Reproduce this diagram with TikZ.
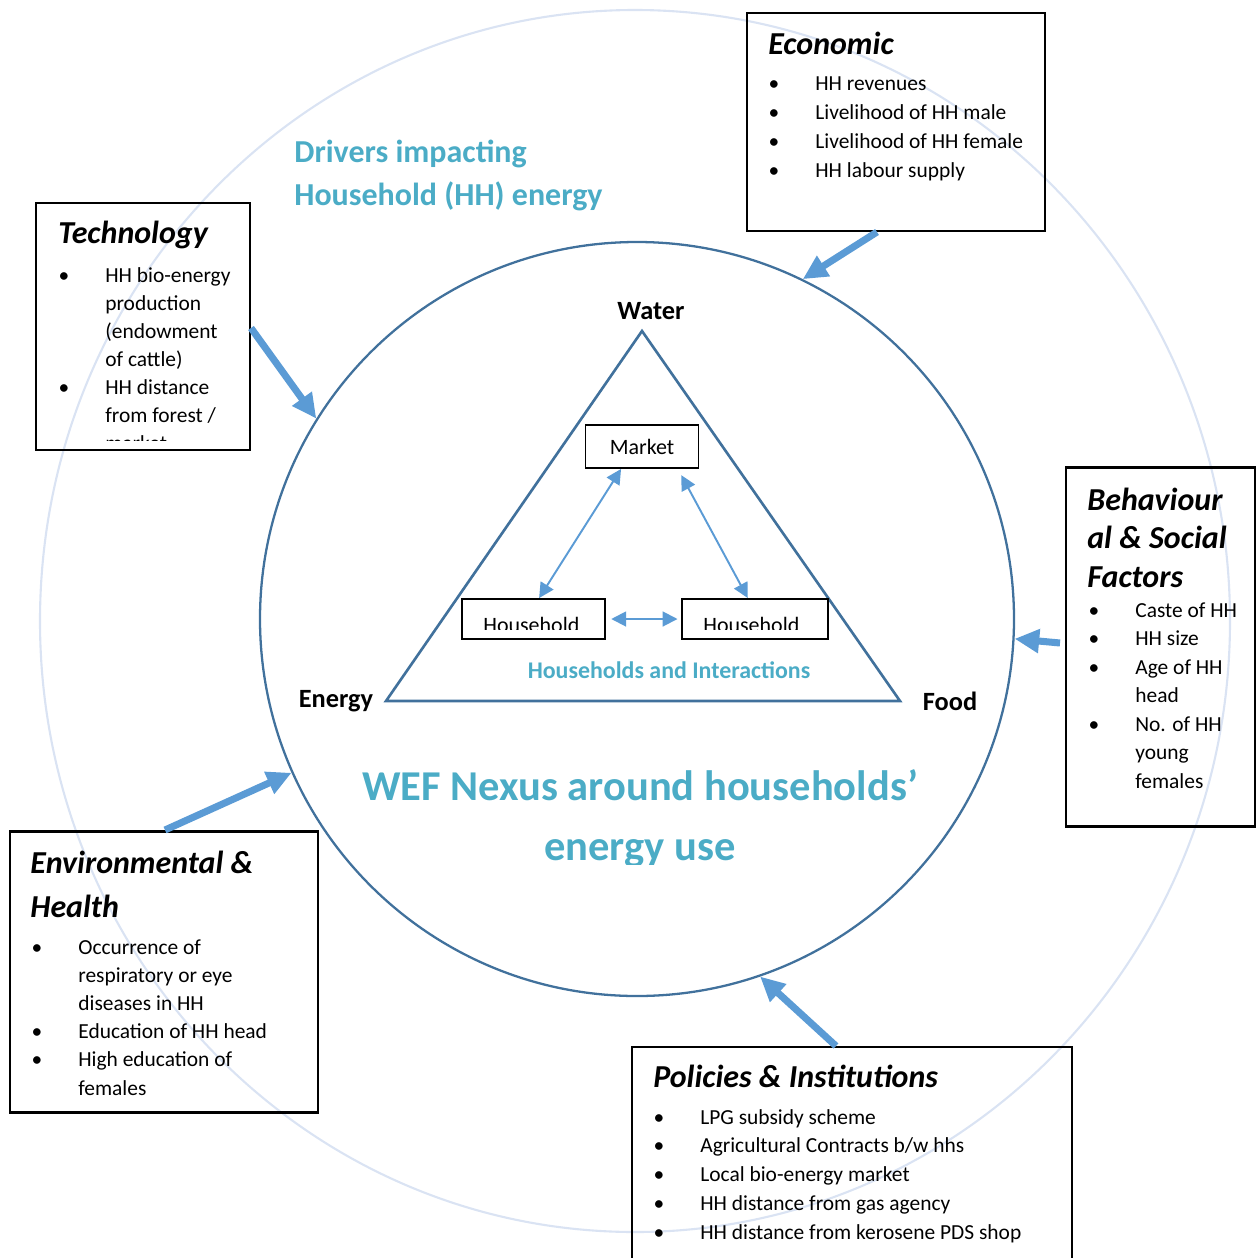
\documentclass[tikz,border=0pt]{standalone}
\usepackage{fontspec}
\setmainfont{Carlito}
\usetikzlibrary{arrows.meta}

\definecolor{ringblue}{HTML}{DAE3F3}
\definecolor{nexusblue}{HTML}{41719C}
\definecolor{arrowblue}{HTML}{5B9BD5}
\definecolor{titlecyan}{HTML}{4BACC6}

\newcommand{\bl}{\llap{\makebox[26.6pt][l]{\textbullet}}}

\tikzset{
  ring/.style={draw=ringblue, line width=1.2pt},
  nexus/.style={draw=nexusblue, line width=1.3pt},
  factorbox/.style={draw, line width=1.2pt, inner sep=0pt},
  hhbox/.style={draw, line width=1.1pt, inner sep=0pt},
  heading/.style={anchor=base west, inner sep=0pt, font=\fontsize{18.2}{22}\selectfont\bfseries\itshape},
  entry/.style={anchor=base west, inner sep=0pt, font=\fontsize{12.2}{15}\selectfont},
  corner/.style={anchor=base, inner sep=0pt, font=\fontsize{15}{18}\selectfont\bfseries},
  title/.style={inner sep=0pt, text=titlecyan, font=\fontsize{18.2}{22}\selectfont\bfseries},
  bigarrow/.style={draw=arrowblue, line width=4pt, -{Triangle[width=13pt,length=14pt]}},
  linkarrow/.style={draw=arrowblue, line width=1.1pt, {Triangle[width=8.5pt,length=8.5pt]}-{Triangle[width=8.5pt,length=8.5pt]}},
}

\begin{document}
\begin{tikzpicture}[x=0.02cm, y=-0.02cm]
	\def\px{0.02cm}
	\clip (0,0) rectangle (1256,1258);

	\draw[ring] (635,621) ellipse [x radius=595, y radius=611];

	\node[title, anchor=base west] (drivers-1) at (294,162) {Drivers impacting};
	\node[title, anchor=base west] (drivers-2) at (294,205) {Household (HH) energy};

	% nexus circle and triangle
	\node[circle, nexus, minimum size=754*\px, inner sep=0pt] (wef) at (637,619) {};
	\coordinate (water) at (642,331);
	\coordinate (energy) at (386,701);
	\coordinate (food) at (900,701);
	\draw[nexus, line width=1.5pt] (water) -- (energy) -- (food) -- cycle;
	\node[corner] (water-lbl) at (651,319) {Water};
	\node[corner] (energy-lbl) at (336,707) {Energy};
	\node[corner] (food-lbl) at (950,710) {Food};

	\node[hhbox, minimum width=113*\px, minimum height=43*\px, font=\fontsize{12.5}{15}\selectfont] (market) at (642,446.5) {Market};
	\node[hhbox, minimum width=143*\px, minimum height=40*\px] (hhleft) at (533.5,619) {};
	\node[hhbox, minimum width=146*\px, minimum height=40*\px] (hhright) at (755,619) {};
	\begin{scope}
		\clip (460,590) rectangle (830,629);
		\node[entry, font=\fontsize{12.5}{15}\selectfont] (hhleft-lbl) at (483,632) {Household};
		\node[entry, font=\fontsize{12.5}{15}\selectfont] (hhright-lbl) at (703,632) {Household};
	\end{scope}
	\draw[linkarrow] (market.-133) -- (hhleft.75);
	\draw[linkarrow, shorten <=4pt] (market.-32) -- (hhright.109);
	\draw[linkarrow, shorten <=3pt, shorten >=2pt] (hhleft.east) -- (hhright.west);
	\node[title, anchor=base, font=\fontsize{13.6}{16}\selectfont\bfseries] (hh-inter) at (669,678) {Households and Interactions};

	\node[title, anchor=base, font=\fontsize{24.2}{28}\selectfont\bfseries] (wef-1) at (640,800) {WEF Nexus around households’};
	\begin{scope}
		\clip (300,810) rectangle (980,864);
		\node[title, anchor=base, font=\fontsize{24.2}{28}\selectfont\bfseries] (wef-2) at (640,860) {energy use};
	\end{scope}

	% Economic
	\node[factorbox, minimum width=298*\px, minimum height=218*\px] (econ) at (896,122) {};
	\node[heading] (econ-head) at (768,54) {Economic};
	\foreach \txt [count=\i] in {{\bl HH revenues}, {\bl Livelihood of HH male}, {\bl Livelihood of HH female}, {\bl HH labour supply}}
		\node[entry] (econ-\i) at (815,{61+29*\i}) {\txt};

	% Technology
	\node[factorbox, minimum width=214*\px, minimum height=247*\px] (tech) at (143,326.5) {};
	\node[heading] (tech-head) at (58,243) {Technology};
	\begin{scope}
		\clip (36,203) rectangle (250,440);
		\foreach \txt [count=\i] in {{\bl HH bio-energy}, {production}, {(endowment}, {of cattle)}, {\bl HH distance}, {from forest /}, {market}}
			\node[entry] (tech-\i) at (105,{253.9+28.1*\i}) {\txt};
	\end{scope}

	% Behavioural & Social
	\node[factorbox, minimum width=189*\px, minimum height=359*\px] (beh) at (1160.5,647) {};
	\node[heading] (beh-head-1) at (1087,510) {Behaviour};
	\node[heading] (beh-head-2) at (1087,548) {al \& Social};
	\node[heading] (beh-head-3) at (1087,587) {Factors};
	\foreach \txt [count=\i] in {{\bl Caste of HH}, {\bl HH size}, {\bl Age of HH}, {head}, {\bl No. of HH}, {young}, {females}}
		\node[entry] (beh-\i) at (1135,{588.5+28.5*\i}) {\txt};

	% Environmental & Health
	\node[factorbox, minimum width=308*\px, minimum height=281*\px] (env) at (164,972) {};
	\node[heading] (env-head-1) at (30,873) {Environmental \&};
	\node[heading] (env-head-2) at (30,917) {Health};
	\foreach \txt [count=\i] in {{\bl Occurrence of}, {respiratory or eye}, {diseases in HH}, {\bl Education of HH head}, {\bl High education of}, {females}}
		\node[entry] (env-\i) at (78,{925.8+28.2*\i}) {\txt};

	% Policies & Institutions
	\node[factorbox, minimum width=440*\px, minimum height=240*\px] (pol) at (852,1167) {};
	\node[heading] (pol-head) at (653,1087) {Policies \& Institutions};
	\foreach \txt [count=\i] in {{\bl LPG subsidy scheme}, {\bl Agricultural Contracts b/w hhs}, {\bl Local bio-energy market}, {\bl HH distance from gas agency}, {\bl HH distance from kerosene PDS shop}}
		\node[entry] (pol-\i) at (700,{1095.25+28.75*\i}) {\txt};

	% drivers pointing at the nexus
	\coordinate (econ-out) at (877,232);
	\coordinate (tech-out) at (251,328);
	\coordinate (beh-out) at (1060,643);
	\coordinate (env-out) at (165,830);
	\coordinate (pol-out) at (836,1046);
	\draw[bigarrow] (econ-out) -- (wef.64);
	\draw[bigarrow] (tech-out) -- (wef.148);
	\draw[bigarrow] (beh-out) -- (wef.-3.6);
	\draw[bigarrow] (env-out) -- (wef.204);
	\draw[bigarrow] (pol-out) -- (wef.-71);
\end{tikzpicture}
\end{document}
